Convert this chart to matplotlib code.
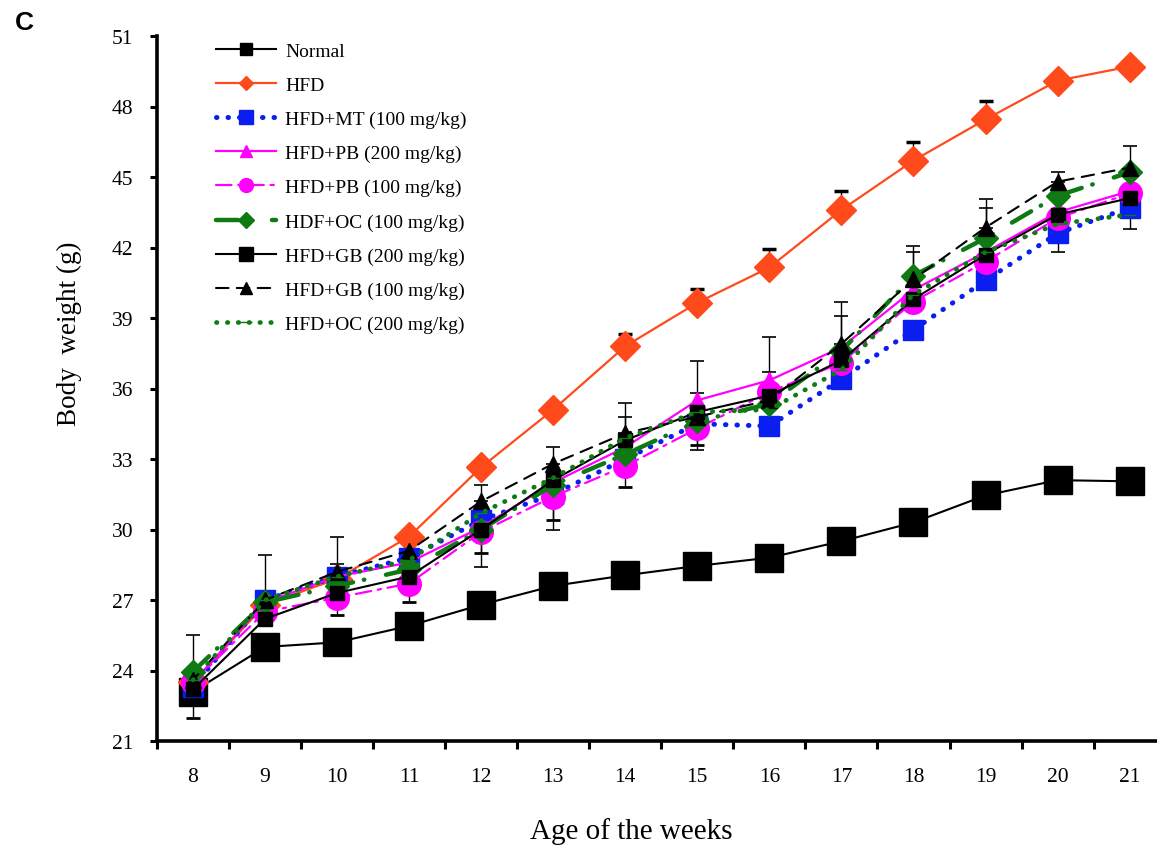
import matplotlib
matplotlib.use("Agg")
import matplotlib.pyplot as plt
from matplotlib.lines import Line2D
import numpy as np

# data
weeks = [8, 9, 10, 11, 12, 13, 14, 15, 16, 17, 18, 19, 20, 21]

normal = [23.1, 25.0, 25.2, 25.9, 26.8, 27.6, 28.05, 28.45, 28.8, 29.5, 30.3, 31.45, 32.1, 32.05]
hfd    = [23.5, 26.8, 27.9, 29.7, 32.65, 35.1, 37.8, 39.65, 41.15, 43.6, 45.7, 47.45, 49.1, 49.7]
mt100  = [23.3, 27.0, 28.0, 28.8, 30.4, 31.5, 33.0, 34.5, 34.4, 36.4, 38.5, 40.6, 42.6, 43.7]
pb200  = [23.5, 26.9, 28.0, 28.6, 30.1, 32.0, 33.5, 35.5, 36.35, 37.75, 40.2, 41.8, 43.5, 44.4]
pb100  = [23.5, 26.5, 27.1, 27.7, 29.9, 31.4, 32.7, 34.3, 35.85, 37.1, 39.7, 41.4, 43.25, 44.3]
oc100  = [23.95, 26.9, 27.6, 28.3, 30.0, 31.9, 33.2, 34.6, 35.35, 37.6, 40.8, 42.4, 44.2, 45.2]
gb200  = [23.2, 26.2, 27.3, 28.0, 30.0, 32.1, 33.8, 35.0, 35.7, 37.2, 39.8, 41.7, 43.4, 44.1]
gb100  = [23.6, 27.0, 28.2, 29.1, 31.2, 32.8, 34.1, 34.8, 35.5, 37.9, 40.65, 42.85, 44.8, 45.4]
oc200  = [23.6, 27.0, 28.0, 28.7, 30.7, 32.2, 33.9, 35.0, 35.1, 36.8, 40.0, 41.8, 43.0, 43.4]

# error bars (lower, upper)
hfd_up   = [0, 0, 0, 0, 0, 0.3, 0.5, 0.6, 0.8, 0.8, 0.8, 0.8, 0.1, 0]
gb100_up = [1.9, 1.9, 1.5, 0, 0.7, 0.7, 1.3, 2.35, 2.7, 1.8, 1.4, 1.2, 0.4, 0.9]
oc100_up = [0, 0, 0.95, 0, 0, 0, 1.6, 1.2, 1.35, 1.5, 1.0, 1.3, 0, 0]
pb100_lo = [1.5, 0, 0.75, 0.8, 0.9, 1.0, 0.9, 0.7, 0, 0, 0, 0, 0, 0]
mt100_lo = [0, 0, 0, 0, 2.0, 1.5, 0, 1.1, 0, 0, 0, 0, 0.8, 0.9]

labels = ["Normal", "HFD", "HFD+MT (100 mg/kg)", "HFD+PB (200 mg/kg)",
          "HFD+PB (100 mg/kg)", "HDF+OC (100 mg/kg)", "HFD+GB (200 mg/kg)",
          "HFD+GB (100 mg/kg)", "HFD+OC (200 mg/kg)"]

plt.rcParams['font.family'] = ['Liberation Serif', 'DejaVu Serif']

fig = plt.figure(figsize=(11.57, 8.53), dpi=100)
ax = fig.add_axes([157 / 1157, 1 - 742 / 853, 1 - 157 / 1157, (742 - 37) / 853])

zero = [0] * len(weeks)
x = np.array(weeks)

# styles: (values, color, linestyle, lw, marker, ms, legend ms)
styles = [
    (normal, 'black', '-', 1.5, 's', 20, 8),
    (hfd, '#ff4a1c', '-', 1.6, 'D', 15.5, 7),
    (mt100, '#0a1ef0', (0, (0.1, 2.2)), 3.6, 's', 15, 10),
    (pb200, '#ff00ff', '-', 1.6, '^', 12, 9),
    (pb100, '#ff00ff', (0, (7, 3, 1.5, 3)), 1.6, 'o', 17, 10),
    (oc100, '#0f7a14', (0, (5, 2.5, 0.1, 5)), 3.2, 'D', 12.5, 8),
    (gb200, 'black', '-', 1.5, 's', 10, 10),
    (gb100, 'black', (0, (6, 4)), 1.5, '^', 12, 9),
    (oc200, '#0f7a14', (0, (0.1, 2.2)), 3.4, '_', 8, 9),
]

handles = []
for (vals, col, ls, lw, mk, ms, lms), lab in zip(styles, labels):
    ax.plot(x, vals, color=col, linestyle=ls, linewidth=lw,
            marker=mk, markersize=ms, markerfacecolor=col,
            markeredgecolor=col, dash_capstyle='round')
    handles.append(Line2D([], [], color=col, linestyle=ls, linewidth=lw,
                          marker=mk, markersize=lms, markerfacecolor=col,
                          markeredgecolor=col, dash_capstyle='round'))

eb = dict(fmt='none', ecolor='black', elinewidth=1.0, capsize=5, capthick=1.2, zorder=1)
ax.errorbar(x, hfd, yerr=[zero, hfd_up], **{**eb, 'capthick': 2.5})
ax.errorbar(x, gb100, yerr=[zero, gb100_up], **eb)
ax.errorbar(x, oc100, yerr=[zero, oc100_up], **eb)
ax.errorbar(x, pb100, yerr=[pb100_lo, zero], **{**eb, 'capthick': 2.0})
ax.errorbar(x, mt100, yerr=[mt100_lo, zero], **eb)

ax.set_xlim(7.5, 21.38)
ax.set_ylim(21, 51)
ax.set_yticks(np.arange(21, 52, 3))
ax.set_xticks(weeks)
ax.set_xticks(np.arange(7.5, 21.0, 1), minor=True)

for s in ['top', 'right']:
    ax.spines[s].set_visible(False)
for s in ['left', 'bottom']:
    ax.spines[s].set_linewidth(2.6)

ax.tick_params(axis='x', which='major', length=0, pad=19, labelsize=15.5)
ax.tick_params(axis='x', which='minor', length=6, width=2.2, direction='out')
ax.tick_params(axis='y', which='major', length=5, width=2.2, direction='out',
               pad=12, labelsize=15.5)

ax.set_xlabel("Age of the weeks", fontsize=21)
ax.xaxis.set_label_coords(0.474, -0.108)
ax.set_ylabel("Body  weight (g)", fontsize=19.5)
ax.yaxis.set_label_coords(-0.075, 0.579)

ax.legend(handles, labels, loc='upper left',
          bbox_to_anchor=(216 / 1157, 1 - 43 / 853),
          bbox_transform=fig.transFigure, frameon=False,
          fontsize=14, handlelength=3.1, labelspacing=0.85,
          borderpad=0, borderaxespad=0, handletextpad=0.45)

fig.text(15 / 1157, 1 - 23 / 853, "C", fontsize=19, fontweight='bold',
         family='Liberation Sans', va='center', ha='left')

plt.savefig("out.png", dpi=100)
